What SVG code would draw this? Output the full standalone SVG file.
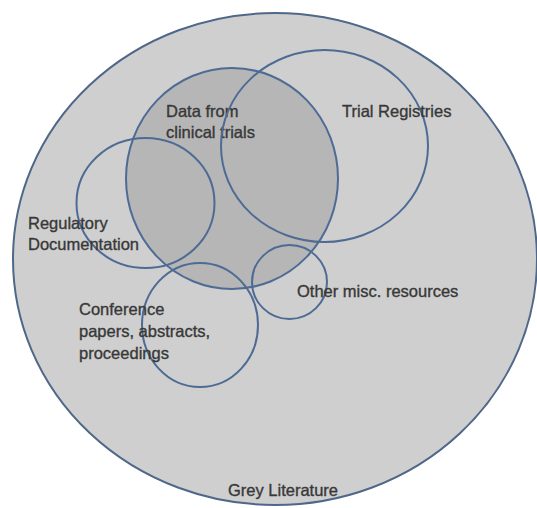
<svg xmlns="http://www.w3.org/2000/svg" width="537" height="508" viewBox="0 0 537 508">
  <style>
    .ring { fill: none; stroke: #4d6b94; stroke-width: 2; }
    .lbl { font-family: "Liberation Sans", Arial, sans-serif; font-size: 16.5px; fill: #383838; stroke: #383838; stroke-width: 0.35; }
  </style>
  <rect x="0" y="0" width="537" height="508" fill="#ffffff"/>
  <g id="grey-literature">
    <ellipse cx="275" cy="259" rx="262" ry="246" fill="#cfcfcf" stroke="#4f6788" stroke-width="2"/>
    <text class="lbl" x="228" y="496">Grey Literature</text>
  </g>
  <g id="clinical-trials">
    <ellipse class="ring" cx="232" cy="178.5" rx="106" ry="110.5" style="fill:#b6b6b6"/>
    <text class="lbl" x="166" y="117">Data from</text>
    <text class="lbl" x="166" y="138">clinical trials</text>
  </g>
  <g id="trial-registries">
    <ellipse class="ring" cx="324.5" cy="146" rx="103.5" ry="96"/>
    <text class="lbl" x="342" y="117">Trial Registries</text>
  </g>
  <g id="regulatory">
    <ellipse class="ring" cx="145.5" cy="203" rx="69" ry="65"/>
    <text class="lbl" x="28" y="229">Regulatory</text>
    <text class="lbl" x="28" y="250">Documentation</text>
  </g>
  <g id="conference">
    <ellipse class="ring" cx="200" cy="325" rx="58" ry="62"/>
    <text class="lbl" x="79" y="315">Conference</text>
    <text class="lbl" x="79" y="337">papers, abstracts,</text>
    <text class="lbl" x="79" y="359">proceedings</text>
  </g>
  <g id="other-misc">
    <ellipse class="ring" cx="289.5" cy="282" rx="37.5" ry="37"/>
    <text class="lbl" x="297" y="297">Other misc. resources</text>
  </g>
  <g id="connectors"></g>
</svg>
